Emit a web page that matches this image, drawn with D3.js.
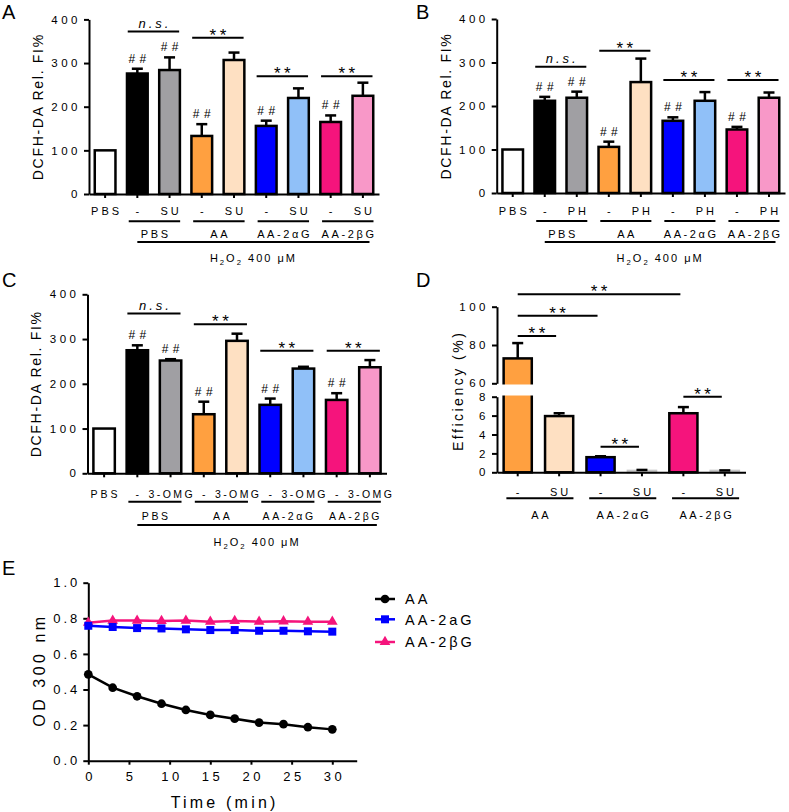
<!DOCTYPE html>
<html><head><meta charset="utf-8">
<script src="https://cdn.jsdelivr.net/npm/d3@7"></script>
<style>
body{margin:0;background:#fff}
text{font-family:"Liberation Sans",Arial,sans-serif;fill:#000}
</style>
</head><body>
<svg id="c" width="789" height="812"></svg>
<script>
// ---------- DATA ----------
const barCategories = ["PBS","-","T","-","T","-","T","-","T"];
const barColors = ["#ffffff","#000000","#a09fa3","#ffa040","#fee0c2","#0000ff","#90c0f8","#f5147c","#f898c8"];
const groupLabels = ["PBS","AA","AA-2αG","AA-2βG"];
const yTicksABC = [0,100,200,300,400];
const hashBars = [1,2,3,5,7];

const aValues = [100,276,284,133,307,156,220,165,225];
const aErrors = [0,11,29,27,17,12,22,15,30];
const aBrackets = [[1,2,372,"n.s."],[3,4,358,"**"],[5,6,270,"**"],[7,8,270,"**"]];

const bValues = [100,212,219,106,255,166,212,146,219];
const bErrors = [0,9,14,12,54,8,20,6,12];
const bBrackets = [[1,2,290,"n.s."],[3,4,327,"**"],[5,6,260,"**"],[7,8,260,"**"]];

const cValues = [100,275,252,132,296,153,234,164,237];
const cErrors = [0,11,3,28,16,14,4,15,16];
const cBrackets = [[1,2,357,"n.s."],[3,4,333,"**"],[5,6,274,"**"],[7,8,274,"**"]];

const dCategories = ["-","SU","-","SU","-","SU"];
const dGroups = ["AA","AA-2αG","AA-2βG"];
const dValues = [73,5.95,1.6,0.15,6.25,0.15];
const dErrors = [8,0.3,0.1,0.1,0.65,0.05];
const dColors = ["#ffa040","#fee0c2","#0000ff","#c8c8c8","#f5147c","#f898c8"];
const dTicksLow = [0,2,4,6,8];
const dTicksHigh = [60,80,100];
const dBrackets = [[0,4,106.5,"hi"],[0,2,95.3,"hi"],[0,1,84.7,"hi"],[2,3,2.7,"lo"],[4,5,8.0,"lo"]];

const eTime = [0,3,6,9,12,15,18,21,24,27,30];
const eAA = [0.485,0.41,0.362,0.32,0.285,0.257,0.236,0.214,0.205,0.188,0.176];
const eAlpha = [0.758,0.751,0.745,0.743,0.738,0.734,0.734,0.73,0.73,0.727,0.725];
const eBeta = [0.775,0.787,0.787,0.785,0.787,0.781,0.785,0.781,0.783,0.781,0.781];
const eSeriesNames = ["AA","AA-2aG","AA-2βG"];
const eColors = ["#000000","#0000ff","#f5147c"];
const eXTicks = [0,5,10,15,20,25,30];
const eYTicks = [0,0.2,0.4,0.6,0.8,1.0];

// ---------- HELPERS ----------
const svg = d3.select("#c");
function txt(g, x, y, s, o = {}) {
  const ls = o.ls == null ? 3 : o.ls;
  const anchor = o.anchor || "middle";
  const xx = anchor === "middle" ? x + ls / 2 : (anchor === "end" ? x + ls : x);
  const t = g.append("text").attr("x", xx).attr("y", y).text(s)
    .attr("font-size", o.size || 11).attr("letter-spacing", ls)
    .attr("text-anchor", anchor);
  if (o.italic) t.attr("font-style", "italic");
  if (o.rotate) t.attr("transform", `rotate(-90 ${xx} ${y})`);
  return t;
}
function line(g, x1, y1, x2, y2, w = 2) {
  g.append("line").attr("x1", x1).attr("y1", y1).attr("x2", x2).attr("y2", y2)
    .attr("stroke", "#000").attr("stroke-width", w);
}
function stars(g, cx, yLine) {
  txt(g, cx, yLine + 3, "**", {size: 17, ls: 3.5});
}
function h2o2(g, cx, y, size) {
  const t = g.append("text").attr("x", cx).attr("y", y).attr("text-anchor", "middle")
    .attr("font-size", size).attr("letter-spacing", 2);
  t.append("tspan").text("H");
  t.append("tspan").text("2").attr("font-size", size * 0.7).attr("dy", 3);
  t.append("tspan").text("O").attr("dy", -3);
  t.append("tspan").text("2").attr("font-size", size * 0.7).attr("dy", 3);
  t.append("tspan").text(" 400 μM").attr("dy", -3);
}
function styleAxis(a, size, ls) {
  a.attr("font-family", null).attr("font-size", null);
  a.selectAll("path,line").attr("stroke", "#000").attr("stroke-width", 2);
  a.selectAll("text").attr("font-size", size).attr("letter-spacing", ls).attr("fill", "#000");
}

// ---------- BAR PANELS A,B,C ----------
function barPanel(p) {
  const g = svg.append("g");
  const n = p.values.length;
  const x = d3.scaleBand().domain(d3.range(n)).range([p.x0, p.x1]).paddingInner(0.28).paddingOuter(0.14);
  const y = d3.scaleLinear().domain([0, 400]).range([p.y0, p.yTop]);
  const bw = x.bandwidth();
  const cx = i => x(i) + bw / 2;

  g.selectAll("rect.bar").data(p.values).join("rect").attr("class", "bar")
    .attr("x", (d, i) => x(i) + 1.25).attr("width", bw - 2.5)
    .attr("y", d => y(d)).attr("height", d => p.y0 - y(d))
    .attr("fill", (d, i) => barColors[i]).attr("stroke", "#000").attr("stroke-width", 2.5);

  p.values.forEach((v, i) => {
    const e = p.errors[i];
    if (!e) return;
    line(g, cx(i), y(v), cx(i), y(v + e), 2.5);
    line(g, cx(i) - 5.5, y(v + e), cx(i) + 5.5, y(v + e), 2.5);
  });
  hashBars.forEach(i => txt(g, cx(i), y(p.values[i] + p.errors[i]) - 6, "##", {size: 12, ls: 4.5}));

  g.append("g").attr("transform", `translate(${p.x0},0)`)
    .call(d3.axisLeft(y).tickValues(yTicksABC).tickSize(5).tickSizeOuter(0).tickPadding(3))
    .call(a => styleAxis(a, 11.5, 3.5));
  g.append("g").attr("transform", `translate(0,${p.y0})`)
    .call(d3.axisBottom(x).tickSize(4).tickSizeOuter(0).tickFormat(""))
    .call(a => styleAxis(a, 11, 3));

  txt(g, p.x0 - 47, (p.y0 + p.yTop) / 2, "DCFH-DA Rel. FI%", {size: 14, ls: 1.7, rotate: true});

  barCategories.forEach((c, i) => {
    const s = c === "T" ? p.treat : c;
    const sz = c === "T" ? p.treatSize : p.labelSize;
    const lsx = c === "T" ? p.treatLs : 3;
    txt(g, cx(i), p.y0 + p.rows[0] + 4, s, {size: sz, ls: lsx});
  });
  groupLabels.forEach((gl, k) => {
    const i = 2 * k + 1, j = 2 * k + 2;
    const xa = x(i) + 3, xb = x(j) + bw - 1;
    line(g, xa, p.y0 + p.rows[1], xb, p.y0 + p.rows[1], 2);
    txt(g, (xa + xb) / 2, p.y0 + p.rows[2] + 4, gl, {size: p.labelSize, ls: 2.6});
  });
  const la = cx(1), lb = x(8) + bw - 5;
  line(g, la, p.y0 + p.rows[3], lb, p.y0 + p.rows[3], 2);
  h2o2(g, (la + lb) / 2, p.y0 + p.rows[4] + 4, 11);

  p.brackets.forEach(([i, j, lev, lab]) => {
    const xa = x(i) + 2, xb = x(j) + bw - 2, yy = y(lev);
    line(g, xa, yy, xb, yy, 2);
    if (lab === "n.s.") txt(g, (xa + xb) / 2, yy - 3.5, "n.s.", {size: 13, ls: 3, italic: true});
    else stars(g, (xa + xb) / 2, yy);
  });

  txt(g, p.lx, p.ly, p.letter, {size: 20, ls: 0, anchor: "start"});
}

barPanel({x0: 89, x1: 379, y0: 194, yTop: 19.4, values: aValues, errors: aErrors, brackets: aBrackets,
  treat: "SU", treatSize: 11, treatLs: 3, labelSize: 11, rows: [17, 27.3, 40, 48, 64], letter: "A", lx: 2, ly: 18.5});
barPanel({x0: 496.7, x1: 785, y0: 193, yTop: 19, values: bValues, errors: bErrors, brackets: bBrackets,
  treat: "PH", treatSize: 11, treatLs: 3, labelSize: 11, rows: [17.7, 28, 41, 49, 65], letter: "B", lx: 416, ly: 18.5});
barPanel({x0: 87.5, x1: 386.5, y0: 473.3, yTop: 294.3, values: cValues, errors: cErrors, brackets: cBrackets,
  treat: "3-OMG", treatSize: 10.5, treatLs: 2.4, labelSize: 10.5, rows: [21, 28.4, 42.4, 51.7, 68.7], letter: "C", lx: 2, ly: 287});

// ---------- PANEL D ----------
(function () {
  const g = svg.append("g");
  const x0 = 497, x1 = 745.5, y0 = 472.3;
  const x = d3.scaleBand().domain(d3.range(dValues.length)).range([x0, x1]).paddingInner(0.26).paddingOuter(0.13);
  const yLo = d3.scaleLinear().domain([0, 8]).range([472.3, 396.7]);
  const yHi = d3.scaleLinear().domain([60, 100]).range([383.3, 306.7]);
  const yD = v => v <= 8 ? yLo(v) : yHi(v);
  const bw = x.bandwidth();
  const cx = i => x(i) + bw / 2;

  g.selectAll("rect.bar").data(dValues).join("rect")
    .attr("x", (d, i) => x(i) + 1.25).attr("width", bw - 2.5)
    .attr("y", d => yD(d)).attr("height", d => y0 - yD(d))
    .attr("fill", (d, i) => dColors[i]).attr("stroke", (d, i) => dValues[i] < 0.5 ? "#c8c8c8" : "#000")
    .attr("stroke-width", 2.5);
  dValues.forEach((v, i) => {
    const e = dErrors[i];
    line(g, cx(i), yD(v), cx(i), yD(v + e), 2.5);
    line(g, cx(i) - 5.5, yD(v + e), cx(i) + 5.5, yD(v + e), 2.5);
  });
  g.append("rect").attr("x", x0 - 3).attr("y", yHi(60) + 1.2).attr("width", x(0) + bw + 4 - x0)
    .attr("height", yLo(8) - yHi(60) - 2.4).attr("fill", "#fff");

  g.append("g").attr("transform", `translate(${x0},0)`)
    .call(d3.axisLeft(yLo).tickValues(dTicksLow).tickSize(5).tickSizeOuter(0).tickPadding(3))
    .call(a => styleAxis(a, 11.5, 3.5));
  g.append("g").attr("transform", `translate(${x0},0)`)
    .call(d3.axisLeft(yHi).tickValues(dTicksHigh).tickSize(5).tickSizeOuter(0).tickPadding(3))
    .call(a => styleAxis(a, 11.5, 3.5));
  g.append("g").attr("transform", `translate(0,${y0})`)
    .call(d3.axisBottom(x).tickSize(4).tickSizeOuter(0).tickFormat(""))
    .call(a => styleAxis(a, 11, 3));

  txt(g, 462, 390.8, "Efficiency (%)", {size: 14, ls: 2.5, rotate: true});

  dCategories.forEach((c, i) => txt(g, cx(i), 495.7, c, {size: 11, ls: 3}));
  dGroups.forEach((gl, k) => {
    const xa = x(2 * k) + 4, xb = x(2 * k + 1) + bw - 1;
    line(g, xa, 498.3, xb, 498.3, 2);
    txt(g, (xa + xb) / 2, 519, gl, {size: 11, ls: 2.6});
  });
  dBrackets.forEach(([i, j, lev, seg]) => {
    const yy = seg === "hi" ? yHi(lev) : yLo(lev);
    const xa = cx(i), xb = cx(j) - 3;
    line(g, xa, yy, xb, yy, 2);
    stars(g, (xa + xb) / 2, yy);
  });
  txt(g, 416, 287, "D", {size: 20, ls: 0, anchor: "start"});
})();

// ---------- PANEL E ----------
(function () {
  const g = svg.append("g");
  const x = d3.scaleLinear().domain([0, 33]).range([88.3, 356.7]);
  const y = d3.scaleLinear().domain([0, 1]).range([760.7, 582.7]);

  g.append("g").attr("transform", `translate(88.3,0)`)
    .call(d3.axisLeft(y).tickValues(eYTicks).tickFormat(d3.format(".1f")).tickSize(5).tickSizeOuter(0).tickPadding(3))
    .call(a => styleAxis(a, 13, 3));
  g.append("g").attr("transform", `translate(0,760.7)`)
    .call(d3.axisBottom(x).tickValues(eXTicks).tickSize(4).tickSizeOuter(0).tickPadding(7))
    .call(a => styleAxis(a, 13, 3.5))
    .call(a => a.selectAll("text").attr("dx", 1.75));

  txt(g, 43.5, 670, "OD 300 nm", {size: 16, ls: 3.5, rotate: true});
  txt(g, 223, 807.5, "Time (min)", {size: 16, ls: 3.2});

  const ln = d3.line().x((d, i) => x(eTime[i])).y(d => y(d));
  const sym = [d3.symbolCircle, d3.symbolSquare, d3.symbolTriangle];
  const symSize = [60, 64, 50];
  const series = [eAA, eBeta, eAlpha];
  const sIdx = [0, 2, 1];
  series.forEach((s, k) => {
    const si = sIdx[k];
    g.append("path").attr("d", ln(s)).attr("fill", "none").attr("stroke", eColors[si]).attr("stroke-width", 2.5);
    g.selectAll(null).data(s).join("path")
      .attr("transform", (d, i) => `translate(${x(eTime[i])},${y(d)})`)
      .attr("d", d3.symbol().type(sym[si]).size(symSize[si])).attr("fill", eColors[si]);
  });
  const ly = [599, 619.3, 642];
  eSeriesNames.forEach((nm, i) => {
    g.append("line").attr("x1", 375).attr("x2", 395).attr("y1", ly[i]).attr("y2", ly[i])
      .attr("stroke", eColors[i]).attr("stroke-width", 2.5);
    g.append("path").attr("transform", `translate(385,${ly[i]})`)
      .attr("d", d3.symbol().type(sym[i]).size(symSize[i])).attr("fill", eColors[i]);
    txt(g, 405, ly[i] + 5.2, nm, {size: 14.5, ls: 3, anchor: "start"});
  });
  txt(g, 2, 575, "E", {size: 20, ls: 0, anchor: "start"});
})();
</script>
</body></html>
